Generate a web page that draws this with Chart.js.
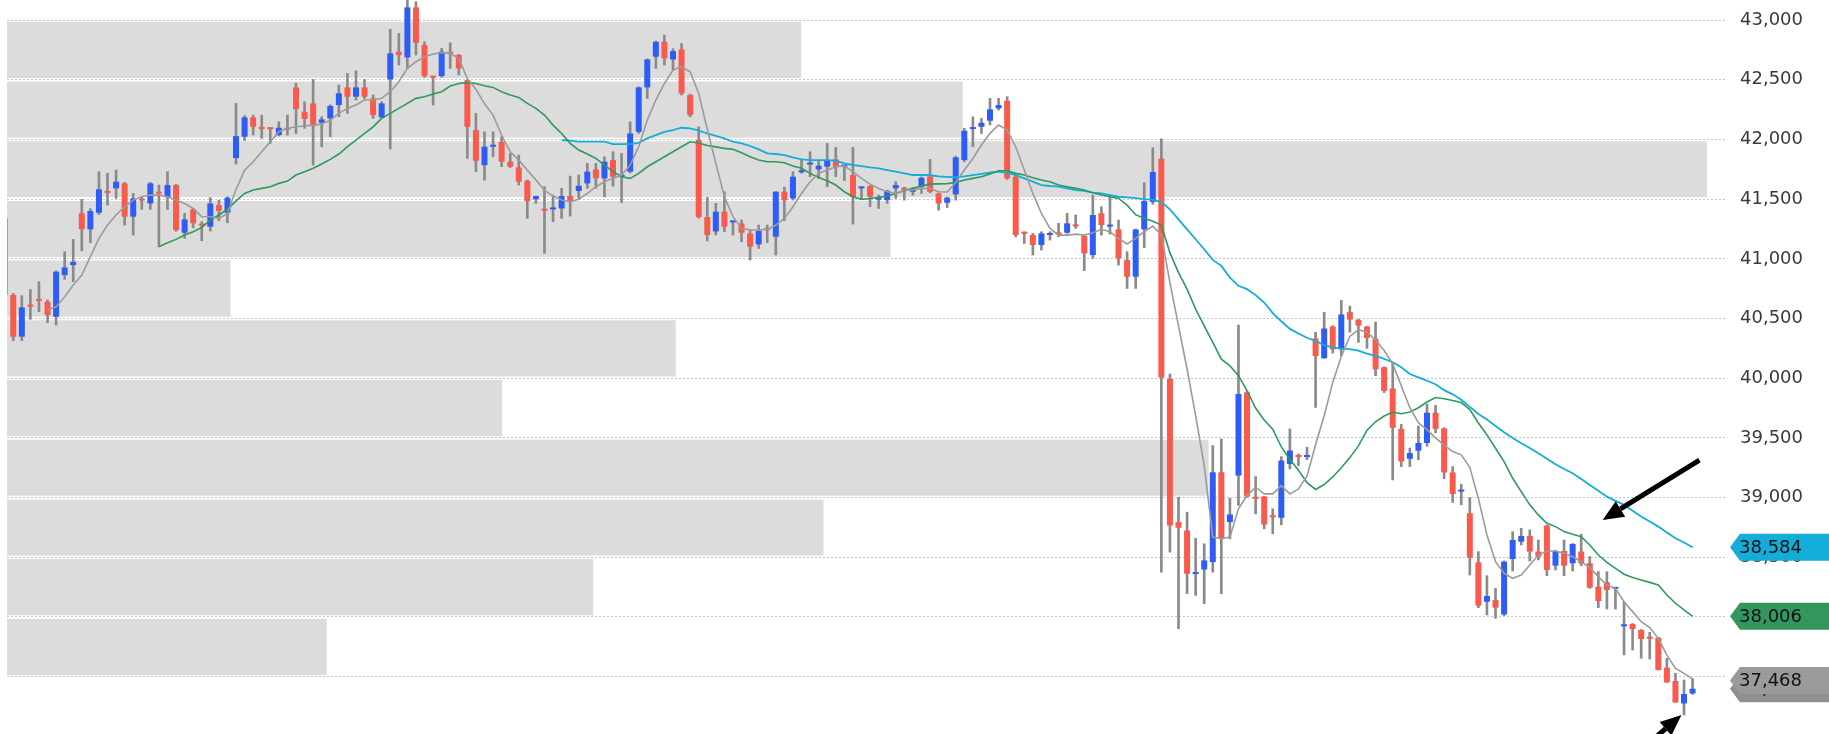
<!DOCTYPE html>
<html><head><meta charset="utf-8">
<script src="https://cdn.jsdelivr.net/npm/chart.js@4/dist/chart.umd.min.js"></script>
<style>html,body{margin:0;padding:0;background:#fff;overflow:hidden}#wrap{position:relative;width:1829px;height:734px}</style>
</head><body><div id="wrap"><canvas id="c" width="1829" height="734"></canvas></div>
<script>
const opens = [41340,40697,40348,40608,40655,40641,40515,40864,40948,41381,
41247,41386,41560,41590,41632,41353,41495,41464,41555,41515,
41618,41219,41414,41285,41269,41450,41386,41844,42023,42185,
42095,42093,42036,42087,42436,42232,42302,42140,42176,42288,
42436,42358,42436,42344,42185,42503,42735,42687,43106,42790,
42525,42531,42735,42707,42497,42078,41785,41939,41981,41813,
41766,41654,41498,41410,41414,41422,41526,41568,41632,41749,
41674,41827,41688,41730,42064,42436,42693,42818,42670,42754,
42372,41995,41350,41230,41395,41305,41297,41213,41121,41245,
41185,41562,41506,41725,41790,41749,41772,41833,41772,41702,
41590,41610,41496,41492,41590,41595,41562,41604,41688,41548,
41470,41540,41827,42087,42106,42157,42260,42324,41688,41215,
41199,41116,41200,41212,41219,41280,41191,41032,41381,41270,
41246,40990,40850,41247,41476,41838,39993,38795,38725,38360,
38398,38460,39212,38795,39185,39882,38995,39009,38840,38831,
39282,39350,39340,40333,40168,40433,40242,40553,40489,40433,
40330,40092,39914,39576,39325,39393,39458,39711,39580,39211,
39050,38869,38458,38128,38142,38022,38486,38631,38679,38548,
38765,38430,38553,38450,38548,38450,38254,38290,38236,37922,
37941,37891,37823,37827,37575,37464,37276,37360];
const highs = [41400,40710,40691,40744,40808,40655,40900,41059,41163,41498,
41420,41730,41716,41744,41640,41548,41520,41640,41618,41730,
41625,41381,41420,41311,41512,41492,41520,42302,42200,42204,
42204,42100,42148,42204,42470,42316,42503,42190,42290,42455,
42553,42575,42503,42372,42316,42922,42888,43170,43154,42818,
42530,42763,42810,42712,42500,42218,42064,42064,42023,41883,
41869,41660,41526,41604,41534,41590,41693,41702,41800,41800,
41855,41897,41883,42148,42440,42675,42825,42874,42760,42804,
42380,42106,41515,41465,41562,41318,41325,41241,41283,41283,
41565,41600,41730,41827,41897,41827,41967,41934,41785,41934,
41605,41615,41534,41575,41646,41600,41595,41685,41833,41552,
41518,41861,42093,42190,42176,42344,42344,42358,41702,41227,
41213,41227,41227,41297,41381,41367,41195,41534,41437,41534,
41325,41060,41250,41638,41930,42005,40035,39004,38878,38660,
38613,39436,39491,38995,40445,39890,39176,39012,38906,39343,
39575,39366,39422,40385,40553,40440,40652,40604,40495,40436,
40470,40095,40134,39613,39415,39599,39782,39773,39585,39260,
39112,39000,38548,38346,38240,38470,38715,38743,38729,38645,
38771,38560,38645,38615,38693,38506,38380,38380,38245,38128,
37945,37895,37872,37830,37654,37528,37472,37486];
const lows = [40680,40314,40314,40493,40557,40465,40445,40828,40808,41068,
41135,41370,41450,41506,41283,41199,41414,41414,41101,41414,
41230,41171,41260,41152,41233,41319,41302,41794,41990,42037,
42009,41967,42030,42036,42050,42093,41785,41939,42023,42190,
42218,42330,42340,42176,42180,41920,42623,42595,42707,42520,
42288,42520,42595,42540,41841,41730,41660,41855,41772,41765,
41618,41339,41464,41046,41311,41339,41358,41506,41590,41590,
41520,41609,41470,41720,42050,42344,42595,42623,42580,42372,
42190,41340,41150,41200,41227,41199,41143,40990,41087,41135,
41032,41320,41492,41716,41688,41674,41604,41688,41655,41291,
41506,41437,41422,41464,41506,41492,41534,41548,41554,41408,
41430,41492,41813,41939,42050,42121,42246,41665,41185,41129,
41032,41074,41157,41185,41213,41255,40901,41004,41199,41207,
40948,40752,40752,41094,41457,38376,38543,37902,38195,38181,
38112,38376,38195,38655,38934,39003,38864,38739,38697,38772,
39240,39268,39318,39755,40165,40210,40188,40385,40300,40250,
40021,39880,39148,39260,39260,39317,39430,39542,39158,38960,
38940,38352,38078,38017,37989,38011,38385,38603,38469,38478,
38346,38394,38346,38385,38430,38240,38078,38067,38067,37682,
37723,37654,37648,37556,37452,37285,37179,37352];
const closes = [40700,40348,40593,40600,40648,40529,40892,40928,40975,41249,
41400,41582,41552,41646,41353,41506,41488,41632,41546,41618,
41241,41330,41297,41278,41464,41403,41512,42028,42185,42106,
42088,42086,42098,42081,42254,42171,42112,42168,42280,42386,
42358,42436,42358,42204,42302,42721,42706,43106,42810,42531,
42518,42735,42718,42595,42106,41822,41939,41953,41813,41772,
41646,41484,41526,41403,41430,41526,41478,41612,41730,41674,
41813,41688,41700,42050,42436,42670,42818,42679,42740,42386,
42204,41350,41199,41395,41269,41315,41219,41102,41233,41240,
41562,41490,41688,41735,41800,41780,41827,41772,41780,41520,
41600,41520,41502,41570,41618,41570,41590,41679,41562,41464,
41512,41850,42073,42099,42140,42252,42288,41674,41199,41210,
41116,41213,41210,41205,41297,41272,41046,41367,41283,41280,
41004,40850,41246,41484,41727,40007,38766,38747,38362,38370,
38474,39212,38655,38859,39868,39009,38990,38775,38835,39310,
39394,39340,39350,40186,40416,40242,40534,40491,40441,40338,
40075,39894,39585,39303,39373,39458,39711,39576,39211,39030,
39055,38497,38095,38176,38078,38464,38645,38679,38548,38506,
38394,38553,38430,38612,38450,38246,38134,38226,38240,37925,
37899,37816,37818,37556,37452,37285,37355,37399];
const maShort = [null,null,null,null,null,40571,40599,40683,40780,40864,
41018,41171,41283,41367,41436,41492,41520,41534,41534,41520,
41492,41464,41422,41353,41353,41339,41380,41580,41743,41813,
41897,41981,42065,42093,42106,42112,42120,42129,42162,42218,
42260,42288,42330,42330,42344,42400,42483,42595,42651,42693,
42715,42726,42721,42679,42510,42420,42300,42204,42036,41897,
41827,41743,41660,41576,41526,41492,41478,41498,41548,41604,
41646,41674,41702,41785,41939,42162,42330,42469,42581,42609,
42567,42386,42085,41800,41520,41353,41255,41241,41241,41247,
41283,41339,41436,41548,41646,41716,41744,41772,41777,41730,
41674,41626,41590,41562,41548,41576,41576,41590,41590,41562,
41560,41640,41744,41841,41953,42051,42121,42079,41939,41744,
41548,41381,41255,41199,41199,41207,41199,41219,41247,41227,
41171,41124,41171,41227,41275,41200,40801,40439,40077,39686,
39268,38669,38655,38669,38906,39017,39087,39031,39031,39101,
39031,39073,39180,39445,39685,39965,40182,40350,40406,40385,
40322,40232,40120,39937,39753,39627,39570,39500,39440,39386,
39358,39253,38994,38687,38464,38366,38324,38352,38436,38519,
38553,38553,38533,38505,38464,38413,38338,38268,38240,38128,
38045,37961,37911,37821,37681,37570,37528,37480];
const maMid = [null,null,null,null,null,null,null,null,null,null,
null,null,null,null,null,null,null,null,41101,41135,
41163,41199,41227,41263,41325,41367,41415,41485,41548,41576,
41590,41604,41632,41651,41702,41730,41758,41794,41833,41878,
41939,41995,42050,42106,42176,42218,42260,42302,42344,42358,
42380,42400,42447,42469,42476,42469,42450,42436,42400,42372,
42352,42302,42260,42204,42120,42050,41967,41911,41878,41841,
41785,41730,41688,41674,41716,41771,41813,41855,41897,41939,
41981,41970,41950,41938,41925,41917,41889,41855,41827,41813,
41813,41805,41777,41758,41716,41682,41654,41618,41562,41520,
41498,41506,41515,41526,41548,41570,41590,41610,41626,41628,
41630,41640,41660,41674,41688,41710,41738,41738,41716,41702,
41680,41660,41646,41618,41604,41590,41576,41554,41534,41520,
41506,41450,41370,41339,41314,41283,41050,40885,40746,40578,
40439,40300,40160,40104,40021,39895,39750,39650,39573,39425,
39320,39229,39125,39068,39110,39173,39250,39335,39433,39565,
39635,39683,39717,39703,39717,39753,39801,39838,39828,39814,
39796,39737,39625,39525,39413,39302,39162,39050,38939,38855,
38785,38757,38715,38693,38673,38603,38519,38458,38408,38358,
38330,38310,38290,38268,38184,38115,38059,38006];
const maLong = [null,null,null,null,null,null,null,null,null,null,
null,null,null,null,null,null,null,null,null,null,
null,null,null,null,null,null,null,null,null,null,
null,null,null,null,null,null,null,null,null,null,
null,null,null,null,null,null,null,null,null,null,
null,null,null,null,null,null,null,null,null,null,
null,null,null,null,null,41995,41990,41981,41981,41981,
41981,41961,41961,41961,41972,42009,42036,42064,42078,42098,
42093,42075,42050,42030,42009,41981,41967,41945,41917,41883,
41878,41869,41850,41833,41827,41827,41827,41822,41800,41786,
41777,41766,41758,41744,41730,41716,41702,41702,41700,41690,
41686,41682,41690,41702,41712,41721,41730,41721,41702,41674,
41646,41618,41610,41604,41590,41576,41570,41554,41548,41534,
41520,41515,41508,41500,41495,41475,41415,41331,41247,41164,
41080,40991,40941,40843,40774,40746,40696,40634,40546,40477,
40413,40374,40339,40312,40278,40259,40248,40243,40231,40206,
40187,40162,40134,40092,40035,40007,39979,39950,39900,39865,
39820,39760,39700,39655,39600,39548,39500,39455,39415,39372,
39325,39279,39240,39204,39155,39106,39057,39008,38973,38939,
38890,38841,38800,38757,38708,38659,38624,38584];
const profileLevels = [37750,38250,38750,39250,39750,40250,40750,41250,41750,42250,42750];
const profileVolume = [186,341,475,699,288,389,130,514,989,556,462];
const priceTicks = [37500,38000,38500,39000,39500,40000,40500,41000,41500,42000,42500,43000];
const tagValues = [37399, 37468, 38006, 38584];
const tagColors = ['#8f8f8f', '#9a9a9a', '#33965f', '#14acd9'];
const arrowTails = [[197.8, 39315], [192.6, 36987]];
const arrowTips = [[186.5, 38812], [195.7, 37179]];

const idx = opens.map((_, i) => i);
const UP = '#2d5cf6', DOWN = '#fa5a4c';

const overlay = {
  id: 'overlay',
  afterDatasetsDraw(chart) {
    const ctx = chart.ctx, xs = chart.scales.x, ys = chart.scales.y;
    ctx.save();
    ctx.fillStyle = '#000'; ctx.strokeStyle = '#000';
    for (let k = 0; k < arrowTails.length; k++) {
      const x1 = xs.getPixelForValue(arrowTails[k][0]), y1 = ys.getPixelForValue(arrowTails[k][1]);
      const x2 = xs.getPixelForValue(arrowTips[k][0]), y2 = ys.getPixelForValue(arrowTips[k][1]);
      const a = Math.atan2(y2 - y1, x2 - x1), head = 21, hw = 9;
      const bx = x2 - head * Math.cos(a), by = y2 - head * Math.sin(a);
      ctx.lineWidth = 5; ctx.lineCap = 'butt';
      ctx.beginPath(); ctx.moveTo(x1, y1); ctx.lineTo(bx, by); ctx.stroke();
      ctx.beginPath(); ctx.moveTo(x2, y2);
      ctx.lineTo(bx + hw * Math.sin(a), by - hw * Math.cos(a));
      ctx.lineTo(bx - hw * Math.sin(a), by + hw * Math.cos(a));
      ctx.closePath(); ctx.fill();
    }
    ctx.restore();
  },
  afterDraw(chart) {
    const ctx = chart.ctx, ys = chart.scales.y;
    const left = chart.chartArea.right + 4, right = chart.width, h = 27, tip = 10;
    ctx.save();
    for (let k = 0; k < tagValues.length; k++) {
      const yp = ys.getPixelForValue(tagValues[k]);
      ctx.beginPath();
      ctx.moveTo(left, yp);
      ctx.lineTo(left + tip, yp - h / 2);
      ctx.lineTo(right, yp - h / 2);
      ctx.lineTo(right, yp + h / 2);
      ctx.lineTo(left + tip, yp + h / 2);
      ctx.closePath();
      ctx.fillStyle = tagColors[k]; ctx.fill();
      ctx.fillStyle = '#111'; ctx.font = '18px "DejaVu Sans"';
      ctx.textBaseline = 'middle'; ctx.textAlign = 'left';
      ctx.fillText(tagValues[k].toLocaleString('en-US'), left + 9, yp + 1);
    }
    ctx.restore();
  }
};

const lineDs = (arr, color, w, order) => ({
  type: 'line', data: idx.map(i => ({x: i, y: arr[i]})), borderColor: color, borderWidth: w,
  pointRadius: 0, spanGaps: true, tension: 0, xAxisID: 'x', yAxisID: 'y', order
});

new Chart(document.getElementById('c'), {
  type: 'bar',
  data: {
    datasets: [
      { label: 'profile', indexAxis: 'y', xAxisID: 'xv', yAxisID: 'yv', grouped: false,
        data: profileLevels.map((p, k) => ({x: profileVolume[k], y: p})),
        backgroundColor: '#dcdcdc', barPercentage: 1, categoryPercentage: 0.94, order: 10 },
      { label: 'wicks', xAxisID: 'x', yAxisID: 'y', grouped: false,
        data: idx.map(i => ({x: i, y: [lows[i], highs[i]]})),
        backgroundColor: '#8a8a8a', barThickness: 2, order: 6 },
      { label: 'bodies', xAxisID: 'x', yAxisID: 'y', grouped: false, minBarLength: 2,
        data: idx.map(i => ({x: i, y: [opens[i], closes[i]]})),
        backgroundColor: idx.map(i => closes[i] >= opens[i] ? UP : DOWN),
        barPercentage: 0.7, categoryPercentage: 1, order: 5 },
      lineDs(maLong, '#14acd9', 1.8, 3),
      lineDs(maMid, '#2e9a5c', 1.6, 2),
      lineDs(maShort, '#9b9b9b', 1.6, 1)
    ]
  },
  options: {
    responsive: false, animation: false, devicePixelRatio: 1,
    layout: { padding: { left: 7, right: 0, top: 0, bottom: 0 } },
    plugins: { legend: { display: false }, tooltip: { enabled: false } },
    scales: {
      x: { type: 'linear', min: 0.27, max: 200.9, display: false, offset: false, grid: {offset: false} },
      xv: { type: 'linear', axis: 'x', min: 0, max: 1000, display: false, offset: false, grid: {offset: false} },
      y: { type: 'linear', position: 'right', min: 37020, max: 43168, offset: false,
        afterBuildTicks: s => { s.ticks = priceTicks.map(v => ({ value: v })); },
        afterFit: s => { s.width = 103; s.paddingTop = 0; s.paddingBottom = 0; },
        ticks: { padding: 14, color: '#3a3a3a', font: { family: 'DejaVu Sans', size: 18 },
          callback: v => Number(v).toLocaleString('en-US') },
        grid: { color: '#c4c4c4', drawTicks: false, lineWidth: 1, offset: false },
        border: { display: false, dash: [2, 2] } },
      yv: { type: 'linear', axis: 'y', position: 'right', min: 37020, max: 43168, display: false,
        offset: false, grid: {offset: false},
        afterBuildTicks: s => { s.ticks = priceTicks.map(v => ({ value: v })); } }
    }
  },
  plugins: [overlay]
});
</script></body></html>
